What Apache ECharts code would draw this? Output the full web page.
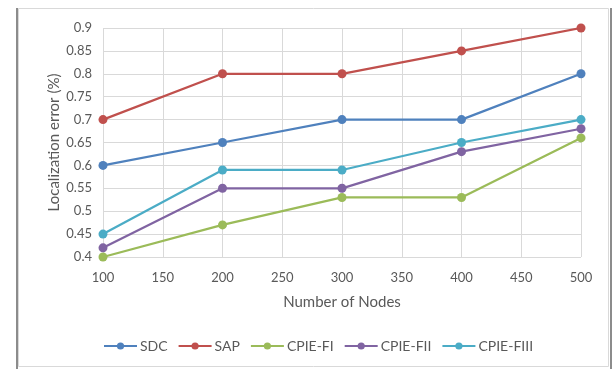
<!DOCTYPE html>
<html>
<head>
<meta charset="utf-8">
<script src="https://cdn.jsdelivr.net/npm/echarts@6/dist/echarts.min.js"></script>
<style>
html,body{margin:0;padding:0;background:#fff;}
#chart{width:613px;height:369px;}
</style>
</head>
<body>
<div id="chart"></div>
<script>
const nodes = [100, 200, 300, 400, 500];
const seriesNames = ['SDC', 'SAP', 'CPIE-FI', 'CPIE-FII', 'CPIE-FIII'];
const sdc = [0.6, 0.65, 0.7, 0.7, 0.8];
const sap = [0.7, 0.8, 0.8, 0.85, 0.9];
const cpieF1 = [0.4, 0.47, 0.53, 0.53, 0.66];
const cpieF2 = [0.42, 0.55, 0.55, 0.63, 0.68];
const cpieF3 = [0.45, 0.59, 0.59, 0.65, 0.7];
const colors = ['#4F81BD', '#C0504D', '#9BBB59', '#8064A2', '#4BACC6'];
const allValues = [sdc, sap, cpieF1, cpieF2, cpieF3];

const font = 'Lato, "Open Sans", sans-serif';
const chart = echarts.init(document.getElementById('chart'), null, {renderer: 'canvas'});
chart.setOption({
  animation: false,
  color: colors,
  graphic: [
    {type: 'rect', shape: {x: 18.5, y: 8.5, width: 590, height: 358}, style: {fill: 'none', stroke: '#d9d9d9', lineWidth: 1}},
    {type: 'line', shape: {x1: 17, y1: 8, x2: 17, y2: 369}, style: {stroke: '#8c8c8c', lineWidth: 2}},
    {type: 'line', shape: {x1: 611, y1: 8, x2: 611, y2: 369}, style: {stroke: '#8c8c8c', lineWidth: 2}}
  ],
  grid: {left: 103, right: 32, top: 28, bottom: 112},
  legend: {
    data: seriesNames,
    left: 103,
    top: 339,
    itemWidth: 33,
    itemHeight: 9,
    itemGap: 10,
    padding: 0,
    textStyle: {color: '#595959', fontSize: 14, fontFamily: font, padding: [0, 0, 0, -2]}
  },
  xAxis: {
    type: 'value',
    min: 100, max: 500, interval: 50,
    name: 'Number of Nodes',
    nameLocation: 'middle',
    nameGap: 38,
    nameTextStyle: {color: '#595959', fontSize: 15, fontFamily: font},
    axisLine: {show: false},
    axisTick: {show: false},
    axisLabel: {color: '#595959', fontSize: 13, fontFamily: font, margin: 14},
    splitLine: {show: true, lineStyle: {color: '#d9d9d9', width: 1}}
  },
  yAxis: {
    type: 'value',
    min: 0.4, max: 0.9, interval: 0.05,
    name: 'Localization error (%)',
    nameLocation: 'middle',
    nameGap: 41,
    nameMoveOverlap: false,
    nameTextStyle: {color: '#595959', fontSize: 15, fontFamily: font},
    axisLine: {show: false},
    axisTick: {show: false},
    axisLabel: {color: '#595959', fontSize: 13, fontFamily: font, margin: 11,
      formatter: v => String(Math.round(v * 100) / 100)},
    splitLine: {show: true, lineStyle: {color: '#d9d9d9', width: 1}}
  },
  series: seriesNames.map((name, i) => ({
    name: name,
    type: 'line',
    data: nodes.map((n, j) => [n, allValues[i][j]]),
    symbol: 'circle',
    symbolSize: 9,
    lineStyle: {width: 2.25, color: colors[i]},
    itemStyle: {color: colors[i]}
  }))
});
</script>
</body>
</html>
